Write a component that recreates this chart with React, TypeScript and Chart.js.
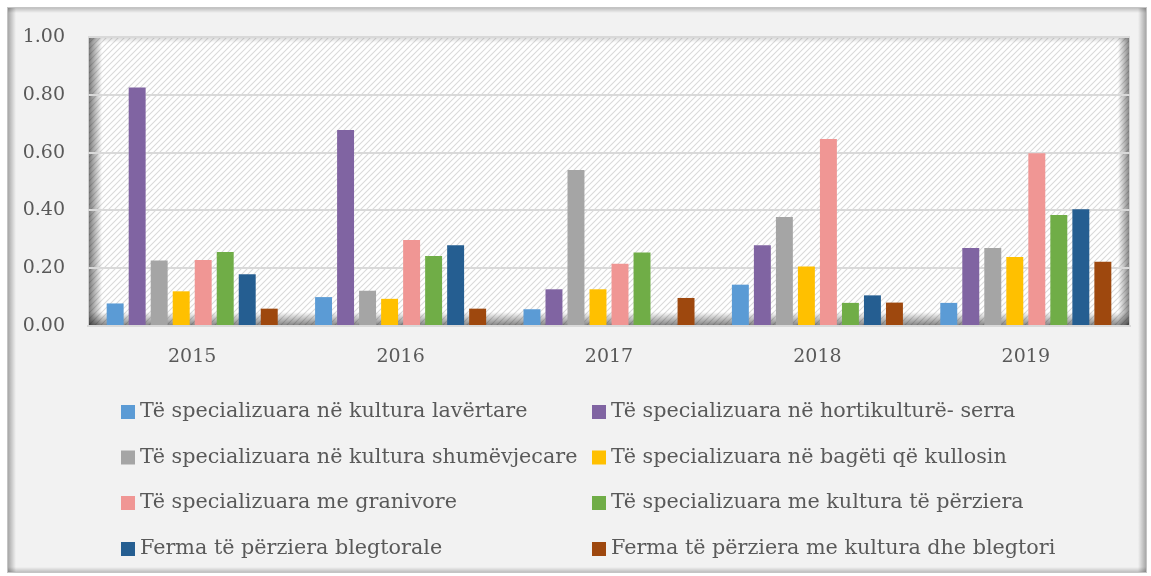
import React, { useEffect, useRef } from "react";
import { Chart, registerables } from "chart.js";

Chart.register(...registerables);

// ---------- DATA ----------
const years = ["2015", "2016", "2017", "2018", "2019"];

const lavertare = [0.078, 0.1, 0.058, 0.143, 0.08];
const hortikulture = [0.825, 0.678, 0.127, 0.279, 0.27];
const shumevjecare = [0.227, 0.122, 0.54, 0.377, 0.27];
const bageti = [0.12, 0.094, 0.127, 0.206, 0.239];
const granivore = [0.228, 0.298, 0.215, 0.647, 0.598];
const kulturaPerziera = [0.256, 0.242, 0.254, 0.08, 0.384];
const blegtorale = [0.179, 0.279, 0, 0.106, 0.404];
const kulturaBlegtori = [0.06, 0.06, 0.097, 0.081, 0.222];

const seriesNames = [
  "Të specializuara në kultura lavërtare",
  "Të specializuara në hortikulturë- serra",
  "Të specializuara në kultura shumëvjecare",
  "Të specializuara në bagëti që kullosin",
  "Të specializuara me granivore",
  "Të specializuara me kultura të përziera",
  "Ferma të përziera blegtorale",
  "Ferma të përziera me kultura dhe blegtori",
];
const seriesValues = [
  lavertare,
  hortikulture,
  shumevjecare,
  bageti,
  granivore,
  kulturaPerziera,
  blegtorale,
  kulturaBlegtori,
];
const seriesColors = [
  "#5B9BD5",
  "#8064A2",
  "#A5A5A5",
  "#FFC000",
  "#F09694",
  "#70AD47",
  "#255E91",
  "#9E480E",
];

const yMin = 0;
const yMax = 1;
const yStep = 0.2;

// ---------- STYLE ----------
const FONT = '"DejaVu Serif", "Liberation Serif", serif';
const TEXT = "#595959";

function makePattern(ctx: CanvasRenderingContext2D) {
  const c = document.createElement("canvas");
  const s = 6;
  c.width = s;
  c.height = s;
  const p = c.getContext("2d")!;
  p.fillStyle = "#ffffff";
  p.fillRect(0, 0, s, s);
  p.strokeStyle = "#dadada";
  p.lineWidth = 1.1;
  p.beginPath();
  p.moveTo(0, s);
  p.lineTo(s, 0);
  p.moveTo(-s, s);
  p.lineTo(s, -s);
  p.moveTo(0, 2 * s);
  p.lineTo(2 * s, 0);
  p.stroke();
  return ctx.createPattern(c, "repeat")!;
}

const framePlugin = {
  id: "frameBg",
  beforeDraw(chart: any) {
    const ctx: CanvasRenderingContext2D = chart.ctx;
    const W = chart.width;
    const H = chart.height;
    ctx.save();
    ctx.fillStyle = "#ffffff";
    ctx.fillRect(0, 0, W, H);
    // outer frame
    const fx = 7, fy = 7, fw = W - 4 - fx, fh = H - 3 - fy;
    ctx.fillStyle = "#f2f2f2";
    ctx.fillRect(fx, fy, fw, fh);
    let g = ctx.createLinearGradient(fx, 0, fx + 9, 0);
    g.addColorStop(0, "rgba(0,0,0,0.35)");
    g.addColorStop(1, "rgba(0,0,0,0)");
    ctx.fillStyle = g;
    ctx.fillRect(fx, fy, 9, fh);
    g = ctx.createLinearGradient(0, fy, 0, fy + 6);
    g.addColorStop(0, "rgba(0,0,0,0.25)");
    g.addColorStop(1, "rgba(0,0,0,0)");
    ctx.fillStyle = g;
    ctx.fillRect(fx, fy, fw, 6);
    g = ctx.createLinearGradient(fx + fw, 0, fx + fw - 9, 0);
    g.addColorStop(0, "rgba(0,0,0,0.35)");
    g.addColorStop(1, "rgba(0,0,0,0)");
    ctx.fillStyle = g;
    ctx.fillRect(fx + fw - 9, fy, 9, fh);
    g = ctx.createLinearGradient(0, fy + fh, 0, fy + fh - 6);
    g.addColorStop(0, "rgba(0,0,0,0.25)");
    g.addColorStop(1, "rgba(0,0,0,0)");
    ctx.fillStyle = g;
    ctx.fillRect(fx, fy + fh - 6, fw, 6);
    ctx.strokeStyle = "#c4c4c4";
    ctx.lineWidth = 1;
    ctx.strokeRect(fx + 0.5, fy + 0.5, fw - 1, fh - 1);

    // plot area
    const a = chart.chartArea;
    const aw = a.right - a.left;
    const ah = a.bottom - a.top;
    ctx.fillStyle = makePattern(ctx);
    ctx.fillRect(a.left, a.top, aw, ah);
    g = ctx.createLinearGradient(a.left, 0, a.left + 14, 0);
    g.addColorStop(0, "rgba(0,0,0,0.55)");
    g.addColorStop(1, "rgba(0,0,0,0)");
    ctx.fillStyle = g;
    ctx.fillRect(a.left, a.top, 14, ah);
    g = ctx.createLinearGradient(a.right, 0, a.right - 12, 0);
    g.addColorStop(0, "rgba(0,0,0,0.5)");
    g.addColorStop(1, "rgba(0,0,0,0)");
    ctx.fillStyle = g;
    ctx.fillRect(a.right - 12, a.top, 12, ah);
    g = ctx.createLinearGradient(0, a.bottom, 0, a.bottom - 14);
    g.addColorStop(0, "rgba(0,0,0,0.5)");
    g.addColorStop(1, "rgba(0,0,0,0)");
    ctx.fillStyle = g;
    ctx.fillRect(a.left, a.bottom - 14, aw, 14);
    g = ctx.createLinearGradient(0, a.top, 0, a.top + 6);
    g.addColorStop(0, "rgba(0,0,0,0.15)");
    g.addColorStop(1, "rgba(0,0,0,0)");
    ctx.fillStyle = g;
    ctx.fillRect(a.left, a.top, aw, 6);
    ctx.strokeStyle = "#d0d0d0";
    ctx.lineWidth = 1;
    ctx.strokeRect(a.left + 0.5, a.top + 0.5, aw - 1, ah - 1);
    ctx.restore();
  },
};

const legendPlugin = {
  id: "gridLegend",
  afterDraw(chart: any) {
    const ctx: CanvasRenderingContext2D = chart.ctx;
    const colX = [121, 592];
    const rowY = [412, 457.5, 503, 549];
    ctx.save();
    ctx.font = `20.7px ${FONT}`;
    ctx.textBaseline = "middle";
    ctx.textAlign = "left";
    chart.data.datasets.forEach((ds: any, i: number) => {
      const x = colX[i % 2];
      const y = rowY[Math.floor(i / 2)];
      ctx.fillStyle = ds.backgroundColor;
      ctx.fillRect(x, y - 7, 14, 14);
      ctx.fillStyle = TEXT;
      ctx.fillText(ds.label, x + 19, y);
    });
    ctx.restore();
  },
};

export default function App() {
  const ref = useRef<HTMLCanvasElement | null>(null);

  useEffect(() => {
    if (!ref.current) return;
    const chart = new Chart(ref.current, {
      type: "bar",
      data: {
        labels: years,
        datasets: seriesNames.map((name, i) => ({
          label: name,
          data: seriesValues[i],
          backgroundColor: seriesColors[i],
          borderWidth: 0,
          categoryPercentage: 0.845,
          barPercentage: 0.77,
        })),
      },
      options: {
        animation: false,
        responsive: false,
        maintainAspectRatio: false,
        layout: { padding: { left: 0, right: 21, top: 37, bottom: 0 } },
        plugins: {
          legend: { display: false },
          tooltip: { enabled: false },
        },
        scales: {
          x: {
            grid: { display: false, drawTicks: false },
            border: { display: true, color: "#d9d9d9", width: 2 },
            ticks: {
              color: TEXT,
              font: { family: FONT, size: 19 },
              padding: 20,
            },
            afterFit: (s: any) => {
              s.height = 250;
            },
          },
          y: {
            min: yMin,
            max: yMax,
            grid: { color: "#d9d9d9", lineWidth: 2, drawTicks: false },
            border: { display: false },
            ticks: {
              stepSize: yStep,
              color: TEXT,
              font: { family: FONT, size: 19 },
              padding: 23,
              callback: (v: any) => Number(v).toFixed(2),
            },
            afterFit: (s: any) => {
              s.width = 88;
            },
          },
        },
      },
      plugins: [framePlugin, legendPlugin],
    });
    return () => chart.destroy();
  }, []);

  return (
    <div style={{ position: "absolute", left: 0, top: 0, width: 1151, height: 576 }}>
      <canvas ref={ref} width={1151} height={576} style={{ display: "block" }} />
    </div>
  );
}
